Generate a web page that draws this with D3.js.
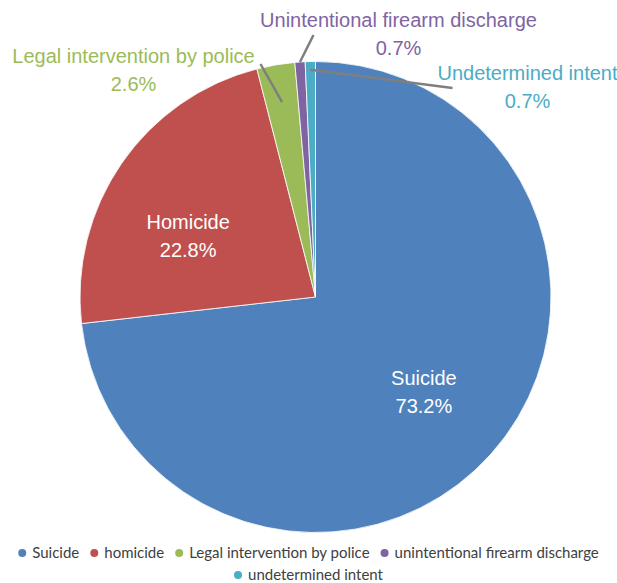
<!DOCTYPE html>
<html>
<head>
<meta charset="utf-8">
<script src="https://cdn.jsdelivr.net/npm/d3@7"></script>
<style>
  body { margin: 0; background: #fff; }
  svg { display: block; }
</style>
</head>
<body>
<svg id="chart" width="617" height="583"></svg>
<script>
// data
const categories = ["Suicide", "Homicide", "Legal intervention by police", "Unintentional firearm discharge", "Undetermined intent"];
const legendNames = ["Suicide", "homicide", "Legal intervention by police", "unintentional firearm discharge", "undetermined intent"];
const shares = [73.2, 22.8, 2.6, 0.7, 0.7];
const colors = ["#4F81BD", "#C0504D", "#9BBB59", "#8064A2", "#4BACC6"];

const svg = d3.select("#chart");
const cx = 315.5, cy = 297, R = 235.5;

const pie = d3.pie().sort(null).value(d => d)(shares);
const arc = d3.arc().innerRadius(0).outerRadius(R);

const g = svg.append("g").attr("transform", `translate(${cx},${cy})`);

g.selectAll("path.slice")
  .data(pie)
  .join("path")
  .attr("class", "slice")
  .attr("d", arc)
  .attr("fill", (d, i) => colors[i])
  .attr("stroke", "#fff")
  .attr("stroke-width", 0.8);

const fmt = v => v.toFixed(1) + "%";
const polar = (a, r) => [Math.sin(a) * r, -Math.cos(a) * r];
const mid = d => (d.startAngle + d.endAngle) / 2;
const FONT = "Liberation Sans, Arial, sans-serif";

// inside labels for the two big slices (centroid, nudged like Excel does)
const inner = [
  { i: 0, r: 0.6 * R, dx: 3, dy: 1 },
  { i: 1, r: 0.6 * R, dx: -11, dy: 19 }
];
inner.forEach(o => {
  const p = polar(mid(pie[o.i]), o.r);
  const t = g.append("text")
    .attr("text-anchor", "middle")
    .attr("font-family", FONT)
    .attr("font-size", 20)
    .attr("fill", "#fff");
  t.append("tspan").attr("x", p[0] + o.dx).attr("y", p[1] + o.dy - 7).text(categories[o.i]);
  t.append("tspan").attr("x", p[0] + o.dx).attr("y", p[1] + o.dy + 21).text(fmt(shares[o.i]));
});

// outside labels with leader lines for the thin slices
const outer = [
  { i: 2, rIn: 0.84 * R, end: [-55, -233], lx: -182, ly: -234 },
  { i: 3, rIn: R, end: [-2, -262], lx: 83, ly: -270 },
  { i: 4, rIn: 0.965 * R, end: [137, -209], lx: 212, ly: -217 }
];
outer.forEach(o => {
  const p = polar(mid(pie[o.i]), o.rIn);
  g.append("line")
    .attr("x1", p[0]).attr("y1", p[1])
    .attr("x2", o.end[0]).attr("y2", o.end[1])
    .attr("stroke", "#7f7f7f")
    .attr("stroke-width", 2.5);
  const t = g.append("text")
    .attr("text-anchor", "middle")
    .attr("font-family", FONT)
    .attr("font-size", 20)
    .attr("fill", colors[o.i]);
  t.append("tspan").attr("x", o.lx).attr("y", o.ly).text(categories[o.i]);
  t.append("tspan").attr("x", o.lx).attr("y", o.ly + 28).text(fmt(shares[o.i]));
});

// legend, centered rows that wrap
const legend = svg.append("g").attr("font-family", "Lato, Open Sans, sans-serif").attr("font-size", 15).attr("fill", "#404040");
const items = legendNames.map((n, i) => {
  const t = legend.append("text").text(n);
  const w = t.node().getComputedTextLength();
  return { t, w: w + 14, i };
});
const maxW = 600, gap = 11;
const rows = [[]];
let cur = 0;
items.forEach(it => {
  if (cur + it.w > maxW && rows[rows.length - 1].length) { rows.push([]); cur = 0; }
  rows[rows.length - 1].push(it);
  cur += it.w + gap;
});
rows.forEach((row, r) => {
  const total = d3.sum(row, d => d.w) + gap * (row.length - 1);
  let x = 617 / 2 - total / 2;
  const y = 558 + r * 22;
  row.forEach(it => {
    legend.append("circle").attr("cx", x + 4).attr("cy", y - 5).attr("r", 4).attr("fill", colors[it.i]);
    it.t.attr("x", x + 14).attr("y", y);
    x += it.w + gap;
  });
});
</script>
</body>
</html>
